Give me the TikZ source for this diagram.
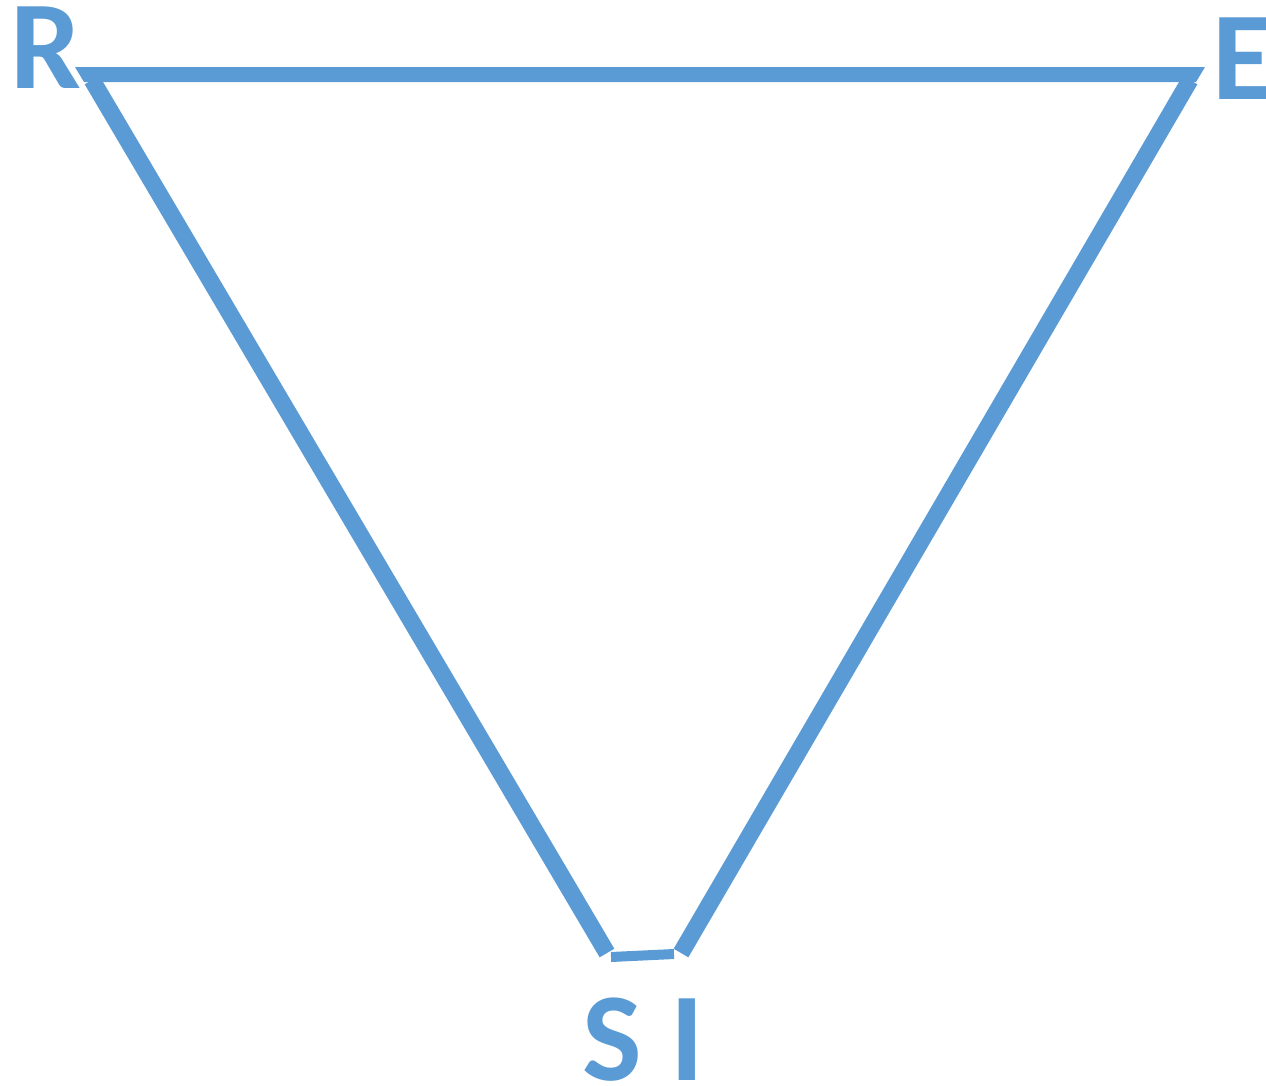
\documentclass[tikz,border=0pt]{standalone}
\usepackage{fontspec}
\setmainfont{Carlito}
\definecolor{officeblue}{HTML}{5B9BD5}
\begin{document}
\begin{tikzpicture}[x=1pt,y=-1pt,
  edge/.style={draw=officeblue,line width=17pt,line cap=butt},
  letter/.style={text=officeblue,font=\bfseries\fontsize{126}{126}\selectfont,inner sep=0pt}]
\useasboundingbox (0,0) rectangle (1266,1085);
\coordinate (tl) at (92,80);
\coordinate (tr) at (1190,80);
\coordinate (bl) at (607,953);
\coordinate (br) at (681,953);
\coordinate (sbl) at (611,957);
\coordinate (sbr) at (674,954);
% top bar (slanted ends)
\fill[officeblue] (75,67) -- (1205,67) -- (1196,82) -- (84,82) -- cycle;
\draw[edge] (tl) -- (bl);
\draw[edge] (tr) -- (br);
\draw[officeblue,line width=10pt] (sbl) -- (sbr);
\node[letter] (R) at (46,48) {R};
\node[letter] (E) at (1243,59) {E};
\node[letter] (SI) at (643,1040) {S I};
\end{tikzpicture}
\end{document}
